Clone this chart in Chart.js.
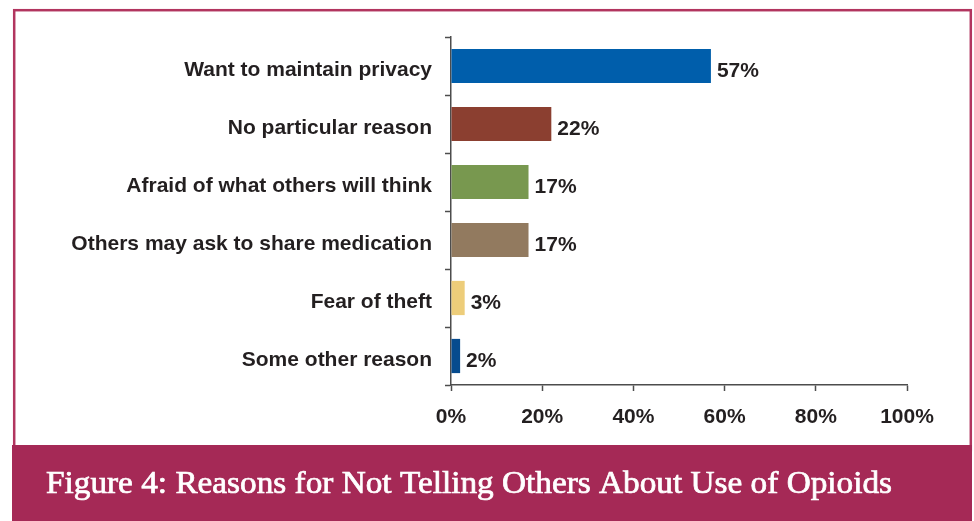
<!DOCTYPE html>
<html>
<head>
<meta charset="utf-8">
<script src="https://cdn.jsdelivr.net/npm/chart.js@4/dist/chart.umd.min.js"></script>
<style>
  html, body { margin: 0; padding: 0; background: #fff; }
  #wrap { width: 974px; height: 521px; }
</style>
</head>
<body>
<div id="wrap"><canvas id="reasons-chart" width="974" height="521"></canvas></div>
<script>
const categories = [
  'Want to maintain privacy',
  'No particular reason',
  'Afraid of what others will think',
  'Others may ask to share medication',
  'Fear of theft',
  'Some other reason',
];
const percents = [57, 22, 17, 17, 3, 2];
const barColors = ['#005eab', '#8b3f30', '#78984f', '#927a5f', '#edcd7a', '#064b8e'];
const xTicks = [0, 20, 40, 60, 80, 100];
const figureTitle = 'Figure 4: Reasons for Not Telling Others About Use of Opioids';

const TEXT = '#231f20';
const MAROON = '#a52956';

// page frame, bottom band and figure caption
const framePlugin = {
  id: 'frame',
  beforeDraw(chart) {
    const ctx = chart.ctx;
    ctx.save();
    ctx.fillStyle = '#fff';
    ctx.fillRect(0, 0, chart.width, chart.height);
    ctx.strokeStyle = '#b2355f';
    ctx.lineWidth = 2.5;
    ctx.strokeRect(14.2, 10.2, 956.6, 440);
    ctx.fillStyle = MAROON;
    ctx.fillRect(12, 445, 960, 76);

    // caption: condensed, slightly heavier serif
    ctx.fillStyle = '#fff';
    ctx.strokeStyle = '#fff';
    ctx.lineWidth = 0.7;
    ctx.font = '31px "Liberation Serif", serif';
    ctx.textBaseline = 'alphabetic';
    const w = ctx.measureText(figureTitle).width;
    const target = 846;
    ctx.translate(46, 493);
    ctx.scale(target / w, 1);
    ctx.fillText(figureTitle, 0, 0);
    ctx.strokeText(figureTitle, 0, 0);
    ctx.restore();
  },
};

// value labels at the end of each bar
const valueLabels = {
  id: 'valueLabels',
  afterDatasetsDraw(chart) {
    const ctx = chart.ctx;
    const meta = chart.getDatasetMeta(0);
    ctx.save();
    ctx.fillStyle = TEXT;
    ctx.font = 'bold 21px "Liberation Sans", Arial, sans-serif';
    ctx.textAlign = 'left';
    ctx.textBaseline = 'middle';
    meta.data.forEach((bar, i) => {
      ctx.fillText(percents[i] + '%', bar.x + 6, bar.y + 5);
    });
    ctx.restore();
  },
};

const ctx = document.getElementById('reasons-chart').getContext('2d');
new Chart(ctx, {
  type: 'bar',
  data: {
    labels: categories,
    datasets: [
      {
        data: percents,
        backgroundColor: barColors,
        borderWidth: 0,
        categoryPercentage: 1,
        barPercentage: 0.59,
      },
    ],
  },
  options: {
    indexAxis: 'y',
    responsive: false,
    animation: false,
    devicePixelRatio: 1,
    layout: {
      padding: { top: 37, right: 67, bottom: 76, left: 0 },
    },
    scales: {
      x: {
        min: 0,
        max: 100,
        afterBuildTicks: (scale) => {
          scale.ticks = xTicks.map((v) => ({ value: v }));
        },
        afterFit: (scale) => {
          scale.height = 60;
        },
        ticks: {
          callback: (value) => value + '%',
          color: TEXT,
          padding: 14,
          font: { family: '"Liberation Sans", Arial, sans-serif', size: 21, weight: 'bold' },
        },
        grid: {
          drawOnChartArea: false,
          tickLength: 6,
          tickColor: '#4d4d4d',
          tickWidth: 1.5,
        },
        border: { color: '#4d4d4d', width: 1.5 },
      },
      y: {
        afterFit: (scale) => {
          scale.width = 451;
        },
        ticks: {
          color: TEXT,
          padding: 13,
          labelOffset: 4,
          font: { family: '"Liberation Sans", Arial, sans-serif', size: 21, weight: 'bold' },
        },
        grid: {
          offset: true,
          drawOnChartArea: false,
          tickLength: 6,
          tickColor: '#4d4d4d',
          tickWidth: 1.5,
        },
        border: { color: '#4d4d4d', width: 1.5 },
      },
    },
    plugins: {
      legend: { display: false },
      tooltip: { enabled: false },
    },
  },
  plugins: [framePlugin, valueLabels],
});
</script>
</body>
</html>
